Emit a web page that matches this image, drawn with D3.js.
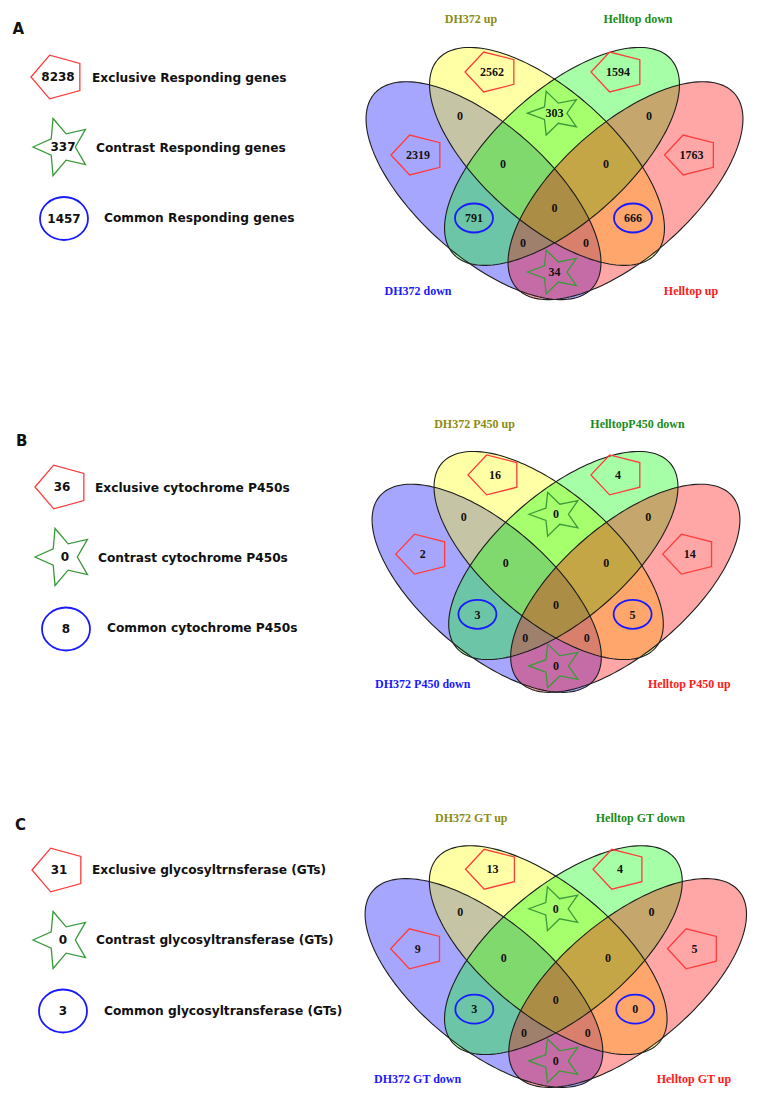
<!DOCTYPE html>
<html><head><meta charset="utf-8">
<script src="https://cdn.jsdelivr.net/npm/d3@7"></script>
<style>body{margin:0;background:#fff}</style>
</head><body><svg id="c" width="765" height="1102"></svg>
<script>
// ---------- DATA ----------
const setNamesA = ["DH372 down", "DH372 up", "Helltop down", "Helltop up"];
const setNamesB = ["DH372 P450 down", "DH372 P450 up", "HelltopP450 down", "Helltop P450 up"];
const setNamesC = ["DH372 GT down", "DH372 GT up", "Helltop GT down", "Helltop GT up"];

// region keys: b = DH372 down, y = DH372 up, g = Helltop down, p = Helltop up
const regionKeys = ["y", "g", "by", "yg", "gp", "b", "byg", "ygp", "p", "bygp", "bg", "yp", "bgp", "byp", "bp"];
const countsA = [2562, 1594, 0, 303, 0, 2319, 0, 0, 1763, 0, 791, 666, 0, 0, 34];
const countsB = [16, 4, 0, 0, 0, 2, 0, 0, 14, 0, 3, 5, 0, 0, 0];
const countsC = [13, 4, 0, 0, 0, 9, 0, 0, 5, 0, 3, 0, 0, 0, 0];

const legendLabelsA = ["Exclusive Responding genes", "Contrast Responding genes", "Common Responding genes"];
const legendValuesA = [8238, 337, 1457];
const legendLabelsB = ["Exclusive cytochrome P450s", "Contrast cytochrome P450s", "Common cytochrome P450s"];
const legendValuesB = [36, 0, 8];
const legendLabelsC = ["Exclusive glycosyltrnsferase (GTs)", "Contrast glycosyltransferase (GTs)", "Common glycosyltransferase (GTs)"];
const legendValuesC = [31, 0, 3];

const panelLetters = ["A", "B", "C"];

// ---------- LAYOUT ----------
const setFill = ["#0000ff", "#ffff00", "#00ff00", "#ff0000"];
const setTextColor = ["#1a1aff", "#8c8c14", "#1a8c1a", "#ff1a1a"];
const ellA = 146, ellB = 66;
const ellGeom = [
  {cx: -71, cy: 143, rot: 41.75},
  {cx: -7.5, cy: 108.7, rot: 41.75},
  {cx: 7.5, cy: 108.7, rot: -41.75},
  {cx: 71, cy: 143, rot: -41.75}
];
const setLabelPos = [[-136.5, 243], [-83.5, -29], [83.5, -29], [136.5, 243]];
const regionPos = {
  y: [-62.5, 24.3], g: [63.5, 24.3], by: [-94.5, 68.3], yg: [0, 65.5], gp: [94.5, 68.3],
  b: [-136.5, 107.3], byg: [-51.5, 116.3], ygp: [51.5, 116.3], p: [137, 107.3],
  bygp: [0, 160.3], bg: [-80.5, 170.3], yp: [78.5, 170.3], bgp: [-31.5, 195.3], byp: [31.5, 195.3], bp: [0, 224.3]
};
const regionMarker = {y: "pent", g: "pent", b: "pent", p: "pent", yg: "star", bp: "star", bg: "oval", yp: "oval"};

const panels = [
  {sets: setNamesA, counts: countsA, labels: legendLabelsA, values: legendValuesA,
   axisX: 554.5, topY: 47.7, sx: 1, sy: 1, letter: [12.5, 33.5],
   legend: [[58, 77, 92, 78], [62, 147, 96, 148], [64, 218.5, 104, 218]]},
  {sets: setNamesB, counts: countsB, labels: legendLabelsB, values: legendValuesB,
   axisX: 556, topY: 451.7, sx: 0.976, sy: 0.955, letter: [16, 445.5],
   legend: [[62, 487, 95, 488], [64, 557, 98, 558], [66, 629, 107, 628]]},
  {sets: setNamesC, counts: countsC, labels: legendLabelsC, values: legendValuesC,
   axisX: 555.8, topY: 846, sx: 1.012, sy: 0.958, letter: [15, 829.5],
   legend: [[59, 870, 92, 870], [62, 940, 96, 940], [63, 1011, 104, 1011]]}
];

const svg = d3.select("#c");
const line = d3.line();

function pentagonPts(cx, cy, rx, ry) {
  return d3.range(5).map(k => {
    const a = (180 + k * 72) * Math.PI / 180;
    return [cx + rx * Math.cos(a), cy + ry * Math.sin(a)];
  });
}
function starPts(cx, cy, rx, ry, ir) {
  return d3.range(10).map(k => {
    const a = (180 + k * 36) * Math.PI / 180;
    const f = k % 2 === 0 ? 1 : ir;
    return [cx + rx * f * Math.cos(a), cy + ry * f * Math.sin(a)];
  });
}

function drawMarker(g, type, cx, cy, size) {
  if (type === "pent") {
    g.append("path").attr("d", line(pentagonPts(cx, cy, size.pr[0], size.pr[1])) + "Z")
      .attr("fill", "none").attr("stroke", "#ff3b3b").attr("stroke-width", 1.3);
  } else if (type === "star") {
    g.append("path").attr("d", line(starPts(cx, cy, size.sr[0], size.sr[1], 0.46)) + "Z")
      .attr("fill", "none").attr("stroke", "#3a9a3a").attr("stroke-width", 1.3);
  } else if (type === "oval") {
    g.append("ellipse").attr("cx", cx).attr("cy", cy).attr("rx", size.or[0]).attr("ry", size.or[1])
      .attr("fill", "none").attr("stroke", "#1a1aff").attr("stroke-width", 1.8);
  }
}

panels.forEach((P, pi) => {
  const x = d3.scaleLinear().domain([0, 1]).range([P.axisX, P.axisX + P.sx]);
  const y = d3.scaleLinear().domain([0, 1]).range([P.topY, P.topY + P.sy]);
  const g = svg.append("g");

  // panel letter
  g.append("text").attr("x", P.letter[0]).attr("y", P.letter[1])
    .attr("font-family", "DejaVu Sans").attr("font-weight", "bold").attr("font-size", 15)
    .attr("fill", "#111").text(panelLetters[pi]);

  // ellipses
  const ellPath = e => {
    const phi = e.rot * Math.PI / 180;
    const pts = d3.range(0, 361, 2).map(t => {
      const r = t * Math.PI / 180;
      const u = ellA * Math.cos(r), v = ellB * Math.sin(r);
      const dx = u * Math.cos(phi) - v * Math.sin(phi);
      const dy = u * Math.sin(phi) + v * Math.cos(phi);
      return [x(e.cx + dx), y(e.cy + dy)];
    });
    return line(pts) + "Z";
  };
  ellGeom.forEach((e, i) => {
    g.append("path").attr("d", ellPath(e)).attr("fill", setFill[i]).attr("fill-opacity", 0.35).attr("stroke", "none");
  });
  ellGeom.forEach((e, i) => {
    g.append("path").attr("d", ellPath(e)).attr("fill", "none").attr("stroke", "#1e1e1e").attr("stroke-width", 1.1);
  });

  // set labels
  P.sets.forEach((s, i) => {
    g.append("text").attr("x", x(setLabelPos[i][0])).attr("y", y(setLabelPos[i][1]))
      .attr("text-anchor", "middle").attr("dy", "0.35em")
      .attr("font-family", "Liberation Serif").attr("font-weight", "bold").attr("font-size", 12)
      .attr("fill", setTextColor[i]).text(s);
  });

  // region markers + counts
  const vsize = {pr: [27, 21], sr: [27, 23], or: [19, 14.5]};
  regionKeys.forEach((k, i) => {
    const cx = x(regionPos[k][0]), cy = y(regionPos[k][1]);
    if (regionMarker[k]) drawMarker(g, regionMarker[k], cx, cy, vsize);
    g.append("text").attr("x", cx).attr("y", cy).attr("text-anchor", "middle").attr("dy", "0.35em")
      .attr("font-family", "Liberation Serif").attr("font-weight", "bold").attr("font-size", 12)
      .attr("fill", "#111").text(P.counts[i]);
  });

  // legend
  const lsize = {pr: [27, 23], sr: [29, 30], or: [24, 21.5]};
  const ltypes = ["pent", "star", "oval"];
  P.legend.forEach((L, i) => {
    drawMarker(g, ltypes[i], L[0], L[1], lsize);
    g.append("text").attr("x", L[0] + (i === 1 ? 1 : 0)).attr("y", L[1]).attr("text-anchor", "middle").attr("dy", "0.35em")
      .attr("font-family", "DejaVu Sans").attr("font-weight", "bold").attr("font-size", 12)
      .attr("fill", "#111").text(P.values[i]);
    g.append("text").attr("x", L[2]).attr("y", L[3]).attr("dy", "0.35em")
      .attr("font-family", "DejaVu Sans").attr("font-weight", "bold").attr("font-size", 12.2)
      .attr("fill", "#111").text(P.labels[i]);
  });
});
</script>
</body></html>
